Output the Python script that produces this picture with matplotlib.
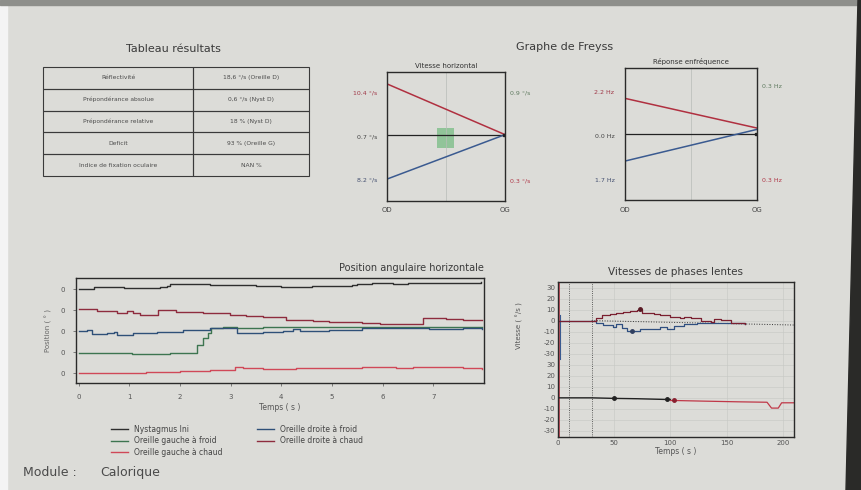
import numpy as np
import matplotlib
matplotlib.use("Agg")
import matplotlib.pyplot as plt
from matplotlib.patches import Rectangle, Polygon

W, H = 862, 490

# ---- Tableau résultats ----
table_rows = ["Réflectivité", "Prépondérance absolue", "Prépondérance relative",
              "Deficit", "Indice de fixation oculaire"]
table_vals = ["18,6 °/s (Oreille D)", "0,6 °/s (Nyst D)", "18 % (Nyst D)",
              "93 % (Oreille G)", "NAN %"]

# ---- Graphe de Freyss (positions, centre line = 0) ----
vit_red = [0.81, 0.0]
vit_blue = [-0.71, 0.0]
vit_left = ["10.4 °/s", "0.7 °/s", "8.2 °/s"]
vit_right = ["0.9 °/s", "0.3 °/s"]
freq_red = [0.54, 0.09]
freq_blue = [-0.41, 0.07]
freq_left = ["2.2 Hz", "0.0 Hz", "1.7 Hz"]
freq_right = ["0.3 Hz", "0.3 Hz"]

# ---- Position angulaire horizontale (each trace on its own row) ----
nyst_t = [0, 0.25, 0.3, 0.6, 0.9, 1.0, 1.5, 1.6, 1.75, 1.8, 2.2, 2.6, 3.0, 3.5,
          4.0, 4.2, 4.6, 5.0, 5.4, 5.5, 5.8, 6.0, 6.2, 6.5, 7.0, 7.5, 7.95]
nyst_y = [4.03, 4.03, 4.11, 4.09, 4.08, 4.05, 4.05, 4.09, 4.16, 4.25, 4.25, 4.22,
          4.19, 4.14, 4.11, 4.11, 4.16, 4.17, 4.19, 4.25, 4.28, 4.28, 4.25, 4.28,
          4.32, 4.32, 4.35]
dc_t = [0, 0.36, 0.75, 0.95, 1.08, 1.21, 1.57, 1.93, 2.46, 2.98, 3.31, 3.64,
        4.1, 4.63, 4.95, 5.6, 5.94, 6.53, 6.79, 7.25, 7.58, 7.97]
dc_y = [3.05, 2.97, 2.89, 2.97, 2.85, 2.77, 3.0, 2.93, 2.85, 2.77, 2.74, 2.69,
        2.53, 2.5, 2.45, 2.4, 2.37, 2.37, 2.64, 2.61, 2.56, 2.53]
df_t = [0, 0.16, 0.26, 0.56, 0.69, 0.75, 1.08, 1.54, 2.07, 2.59, 2.79, 3.12,
        3.64, 4.03, 4.24, 4.36, 4.95, 5.6, 6.27, 6.92, 7.58, 7.97]
df_y = [2.01, 2.06, 1.85, 1.9, 1.95, 1.82, 1.9, 1.98, 2.06, 2.14, 2.17, 1.9,
        1.98, 2.01, 2.1, 2.01, 2.06, 2.14, 2.17, 2.1, 2.14, 2.1]
gf_t = [0, 1.0, 1.05, 1.67, 1.8, 2.23, 2.33, 2.46, 2.56, 2.62, 2.85, 3.12, 3.64, 7.97]
gf_y = [0.98, 0.98, 0.92, 0.92, 0.98, 0.98, 1.35, 1.66, 1.9, 2.14, 2.21, 2.17,
        2.21, 2.21]
gc_t = [0, 1.02, 1.34, 2.0, 2.59, 2.92, 3.08, 3.25, 3.64, 4.3, 4.95, 5.6, 6.27,
        6.6, 7.25, 7.58, 7.97]
gc_y = [0.0, 0.0, 0.08, 0.11, 0.16, 0.16, 0.32, 0.24, 0.21, 0.24, 0.27, 0.29,
        0.27, 0.32, 0.29, 0.24, 0.21]

# ---- Vitesses de phases lentes (upper panel shifted by +70) ----
up_red_t = [0, 30, 34, 39, 46, 52, 58, 64, 70, 73, 75, 79, 85, 91, 100, 109, 112,
            118, 127, 136, 139, 145, 154, 166]
up_red_v = [0, 0, 2.7, 4.8, 5.7, 7.0, 7.6, 9.0, 10.0, 10.7, 6.6, 6.6, 5.7, 4.8,
            3.6, 2.1, 3.6, 2.7, -0.3, -0.9, 1.2, 0.6, -1.8, -2.7]
up_blue_t = [0, 30, 34, 40, 49, 52, 57, 61, 66, 73, 82, 91, 97, 103, 112, 124, 148, 166]
up_blue_v = [0, 0, -1.8, -4.2, -5.4, -3.3, -6.3, -9.3, -9.3, -7.8, -7.2, -5.4,
             -7.2, -4.8, -2.7, -1.8, -1.8, -2.7]
lo_black_t = [0, 30, 50, 70, 97, 100]
lo_black_v = [0, 0, -0.5, -0.8, -1.5, -1.5]
lo_red_t = [100, 103, 130, 160, 186, 190, 196, 199, 210]
lo_red_v = [-2.4, -2.4, -3.0, -3.6, -4.0, -9.3, -9.3, -4.5, -4.5]
vit_ticks = [-30, -20, -10, 0, 10, 20, 30]
UP = 70


def box(x0, y0, x1, y1):
    return [x0 / W, 1 - y1 / H, (x1 - x0) / W, (y1 - y0) / H]


fig = plt.figure(figsize=(W / 100, H / 100), dpi=100, facecolor="#dcdcd8")
plt.rcParams["font.family"] = "DejaVu Sans"

# photo surroundings
fig.patches.append(Rectangle((0, 0), 7 / W, 1, transform=fig.transFigure,
                             color="#f4f4f4", zorder=0))
fig.patches.append(Rectangle((0, 1 - 5 / H), 1, 5 / H, transform=fig.transFigure,
                             color="#8e8f8b", zorder=0))
fig.patches.append(Polygon([(858 / W, 1), (1, 1), (1, 0), (846 / W, 0), (852 / W, 0.5)],
                           closed=True, transform=fig.transFigure,
                           color="#2a2a28", zorder=0))

tc = "#3a3a3a"
fig.text(173 / W, 1 - 49 / H, "Tableau résultats", ha="center", va="center",
         fontsize=8, color=tc)
fig.text(565 / W, 1 - 47 / H, "Graphe de Freyss", ha="center", va="center",
         fontsize=8, color=tc)

# ---- table ----
ax_t = fig.add_axes(box(43, 67, 309, 176))
ax_t.axis("off")
tab = ax_t.table(cellText=[[r, v] for r, v in zip(table_rows, table_vals)],
                 colWidths=[0.564, 0.436], cellLoc="center", bbox=[0, 0, 1, 1])
tab.auto_set_font_size(False)
for cell in tab.get_celld().values():
    cell.set_facecolor("none")
    cell.set_edgecolor("#3a3a3a")
    cell.set_linewidth(0.8)
    cell.get_text().set_fontsize(4.3)
    cell.get_text().set_color("#4a4a4a")


def freyss(rect, title, red, blue, ylo, green=None):
    ax = fig.add_axes(rect)
    ax.set_xlim(0, 1)
    ax.set_ylim(ylo, 1)
    ax.set_facecolor("none")
    ax.set_xticks([])
    ax.set_yticks([])
    for sp in ax.spines.values():
        sp.set_linewidth(1.0)
        sp.set_color("#2a2a2a")
    ax.axvline(0.5, color="#b8bcb8", lw=0.5)
    if green:
        ax.add_patch(Rectangle((green[0], green[1]), green[2], green[3],
                               color="#7fbf8a", alpha=0.8, lw=0))
    ax.axhline(0, color="#222222", lw=0.9)
    ax.plot([0, 1], red, color="#b03040", lw=1.1)
    ax.plot([0, 1], blue, color="#3a5a90", lw=1.1)
    ax.plot([0.99], [0.0], "s", color="#222222", ms=2)
    ax.set_title(title, fontsize=5, color="#333333", pad=3)
    ax.text(0, -0.05, "OD", transform=ax.transAxes, ha="center", va="top",
            fontsize=5, color="#444444")
    ax.text(1, -0.05, "OG", transform=ax.transAxes, ha="center", va="top",
            fontsize=5, color="#444444")
    return ax


ax_v = freyss(box(387, 72, 505, 201), "Vitesse horizontal", vit_red, vit_blue,
              -1.06, green=(0.42, -0.22, 0.15, 0.33))
ax_f = freyss(box(625, 68, 757, 200), "Réponse enfréquence", freq_red, freq_blue,
              -1.0)


def side_labels(ax, left, right, ys_left, ys_right):
    cols_l = ["#a03848", "#444444", "#445070"]
    for lab, y, c in zip(left, ys_left, cols_l):
        ax.text(-0.08, y, lab, transform=ax.transAxes, ha="right", va="center",
                fontsize=4.5, color=c)
    for lab, y, c in zip(right, ys_right, ["#5f7a5f", "#b03848"]):
        ax.text(1.04, y, lab, transform=ax.transAxes, ha="left", va="center",
                fontsize=4.5, color=c)


side_labels(ax_v, vit_left, vit_right,
            [(201 - 93) / 129, (201 - 137) / 129, (201 - 180) / 129],
            [(201 - 93) / 129, (201 - 181) / 129])
side_labels(ax_f, freq_left, freq_right,
            [(200 - 92) / 132, (200 - 136) / 132, (200 - 180) / 132],
            [(200 - 87) / 132, (200 - 180) / 132])

# ---- Position angulaire horizontale ----
ax_p = fig.add_axes(box(76, 278, 484, 383))
ax_p.set_facecolor("none")
ax_p.plot(nyst_t, nyst_y, color="#2e2e2e", lw=1.0, drawstyle="steps-post",
          label="Nystagmus Ini")
ax_p.plot(gf_t, gf_y, color="#3d7550", lw=1.0, drawstyle="steps-post",
          label="Oreille gauche à froid")
ax_p.plot(gc_t, gc_y, color="#d04858", lw=1.0, drawstyle="steps-post",
          label="Oreille gauche à chaud")
ax_p.plot(df_t, df_y, color="#2f5078", lw=1.0, drawstyle="steps-post",
          label="Oreille droite à froid")
ax_p.plot(dc_t, dc_y, color="#8e2c3e", lw=1.0, drawstyle="steps-post",
          label="Oreille droite à chaud")
ax_p.set_xlim(-0.05, 8.0)
ax_p.set_ylim(-0.46, 4.54)
ax_p.set_xticks(range(8))
ax_p.set_yticks(range(5))
ax_p.set_yticklabels(["0"] * 5)
ax_p.tick_params(labelsize=5, length=2, width=0.5, colors="#555555", pad=6)
for sp in ax_p.spines.values():
    sp.set_linewidth(1.0)
    sp.set_color("#2a2a2a")
ax_p.set_xlabel("Temps ( s )", fontsize=5.5, color="#555555", labelpad=2)
ax_p.set_ylabel("Position ( ° )", fontsize=5, color="#666666", labelpad=6)
ax_p.set_title("Position angulaire horizontale", fontsize=7, color=tc,
               loc="right", pad=5)
ax_p.legend(loc="upper left", bbox_to_anchor=(0.07, -0.33), ncol=2, frameon=False,
            fontsize=5.5, handlelength=2.2, columnspacing=4.5, labelspacing=0.35,
            labelcolor="#444444")

# ---- Vitesses de phases lentes ----
ax_s = fig.add_axes(box(558, 282, 794, 437))
ax_s.set_facecolor("none")
ax_s.set_xlim(0, 210)
ax_s.set_ylim(-35.5, 105)
ticks = vit_ticks + [v + UP for v in vit_ticks]
ax_s.set_yticks(ticks)
ax_s.set_yticklabels([str(v) for v in vit_ticks] * 2)
ax_s.set_xticks([0, 50, 100, 150, 200])
ax_s.grid(True, color="#c6c8c4", lw=0.4)
ax_s.tick_params(labelsize=5, length=0, colors="#555555", pad=2)
for sp in ax_s.spines.values():
    sp.set_linewidth(1.0)
    sp.set_color("#2a2a2a")
ax_s.axvline(10, color="#333333", lw=0.6, ls=":")
ax_s.axvline(30, color="#333333", lw=0.6, ls=":")
ax_s.plot([30, 210], [UP, UP - 4], color="#333333", lw=0.7, ls=":")
ax_s.plot([0.8, 0.8], [-35.5, 105], color="#c83848", lw=1.2)
ax_s.plot([1.5, 1.5], [UP - 35, UP + 5], color="#3a5a90", lw=0.8)
ax_s.plot(up_blue_t, np.array(up_blue_v) + UP, color="#2f4f80", lw=0.9,
          drawstyle="steps-post")
ax_s.plot(up_red_t, np.array(up_red_v) + UP, color="#7a1f30", lw=0.9,
          drawstyle="steps-post")
ax_s.plot([73], [10.7 + UP], "o", color="#5a1a25", ms=2.5)
ax_s.plot([66], [-9.3 + UP], "o", color="#2f3f60", ms=2.5)
ax_s.plot(lo_black_t, lo_black_v, color="#222222", lw=1.0)
ax_s.plot(lo_red_t, lo_red_v, color="#c03848", lw=0.9)
ax_s.plot([50, 97], [-0.5, -1.5], "o", color="#222222", ms=2.5)
ax_s.plot([103], [-2.4], "o", color="#8a2030", ms=2.5)
ax_s.set_xlabel("Temps ( s )", fontsize=5.5, color="#555555", labelpad=1)
ax_s.set_ylabel("Vitesse ( °/s )", fontsize=5, color="#555555", labelpad=2)
ax_s.yaxis.set_label_coords(-0.15, 0.72)
ax_s.set_title("Vitesses de phases lentes", fontsize=7.5, color=tc, pad=5)

# ---- footer ----
fig.text(23 / W, 1 - 472 / H, "Module :", fontsize=9, color="#4a4a4a", va="center")
fig.text(100 / W, 1 - 472 / H, "Calorique", fontsize=9, color="#4a4a4a", va="center")

fig.savefig("out.png", dpi=100, facecolor=fig.get_facecolor())
